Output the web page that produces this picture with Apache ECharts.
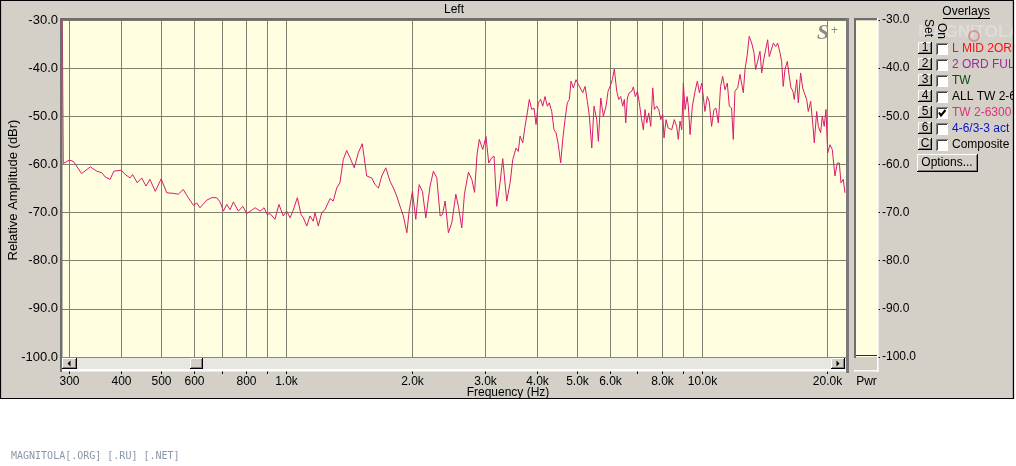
<!DOCTYPE html>
<html><head><meta charset="utf-8">
<script src="https://cdn.jsdelivr.net/npm/echarts@6/dist/echarts.min.js"></script>
<style>html,body{margin:0;padding:0;background:#fff}#c{width:1016px;height:466px}</style>
</head><body><div id="c"></div>
<script>
// ---------------- data ----------------
const freqHz = [
 288,290,300,307,321,337,349,359,366,376,384,400,409,420,426,437,448,459,469,483,
 499,515,534,549,564,580,597,608,619,643,661,679,692,705,718,731,745,766,785,802,
 825,840,864,883,899,
 913,938,959,982,1001,1020,1038,1062,1084,1098,1119,1139,1160,1171,1193,1216,1238,1273,1296,1321,
 1345,1370,1396,1422,1456,1489,1522,1545,1560,1604,1634,1665,1696,1734,1776,1809,1843,1877,1912,1949,
 1974,2010,2048,2086,2125,2165,2217,2258,2301,2344,2374,2410,2454,2501,2557,2594,2643,2682,2742,2794,
 2837,
 2876,2913,2969,3023,3069,3121,3161,3208,3267,3317,3391,3454,3506,3571,3616,3651,3706,3753,3801,3844,
 3895,3945,3989,
 4040,4094,4140,4193,4247,4294,4352,4408,4457,4514,4574,4626,4685,4745,4798,4843,4905,4980,
 5045,5092,5169,5236,5303,5362,5434,5503,5586,5636,5712,5795,5882,5948,
 6013,6090,6158,6241,6311,6381,6452,6510,6560,6619,6692,6782,6843,6919,
 7000,7074,7153,7233,7301,7370,7453,7536,7620,7688,7791,7878,7966,
 8053,8112,8202,8294,8386,8466,8588,8703,8781,8864,8948,
 9030,9115,9217,9284,9372,9492,9635,9759,9868,
 10000,10080,10180,10310,10420,10560,10700,10820,10960,11100,11230,11370,11520,11650,11800,11910,12020,12200,12360,12480,
 12590,12710,12870,13010,13190,13360,13480,13630,13810,13940,14100,14250,14410,14540,14680,14870,15070,15230,15430,15570,
 15710,15860,16070,16220,16400,16580,16700,16930,17080,17300,17500,17650,17890,18050,18290,18500,18660,18910,19080,19330,
 19510,19720,19910,20100,20360,20620,20930,21200,21440,21640,21920,22120
];
const levelDb = [
 -20,-59.8,-59.1,-59.4,-61.9,-60.5,-61.4,-61.7,-62.6,-63.1,-61.4,-61.2,-62.1,-62.8,-62.1,-63.8,-62.8,-64.5,-63.1,-65.6,
 -63.0,-65.9,-66.0,-66.2,-65.2,-66.9,-68.5,-68.0,-69.0,-67.4,-66.9,-66.9,-67.8,-69.7,-68.3,-69.4,-67.8,-69.7,-68.7,-70.2,
 -69.5,-69.0,-69.7,-69.0,-70.4,
 -70.2,-71.4,-68.3,-70.7,-69.7,-71.1,-69.5,-66.9,-70.4,-71.1,-72.8,-70.7,-71.8,-70.0,-72.8,-70.0,-69.4,-67.1,-67.6,-64.9,
 -63.8,-59.0,-57.1,-58.6,-60.7,-57.6,-55.7,-59.7,-62.4,-62.8,-64.2,-64.9,-62.4,-60.7,-63.5,-64.9,-66.6,-68.7,-70.7,-74.2,
 -69.7,-65.6,-71.4,-64.2,-65.6,-71.1,-64.5,-61.4,-62.8,-70.7,-70.4,-67.6,-74.2,-72.1,-66.2,-68.7,-73.2,-66.2,-61.6,-63.1,
 -65.8,
 -58.0,-54.8,-56.9,-54.2,-59.7,-58.6,-58.3,-68.7,-63.9,-58.8,-67.6,-63.9,-59.0,-56.6,-57.3,-54.1,-55.5,-52.1,-49.3,-46.5,
 -48.6,-48.3,-51.7,
 -47.2,-46.5,-47.9,-45.9,-47.9,-47.2,-49.0,-52.8,-53.4,-55.9,-59.7,-54.8,-50.7,-47.2,-46.5,-42.7,-44.1,-42.4,
 -43.4,-43.1,-45.1,-43.8,-46.9,-50.0,-56.6,-47.9,-50.7,-55.2,-46.2,-50.0,-47.9,-44.8,
 -43.8,-42.4,-40.2,-44.8,-46.5,-45.9,-47.9,-46.5,-51.4,-46.2,-45.1,-44.8,-43.9,-45.9,
 -44.8,-47.2,-50.3,-52.8,-48.6,-51.4,-49.3,-52.1,-44.1,-48.6,-47.9,-48.6,-50.7,
 -49.6,-54.5,-50.7,-52.4,-52.1,-52.8,-50.7,-52.1,-54.8,-51.0,-52.8,
 -43.1,-48.6,-45.9,-47.9,-53.8,-47.9,-44.8,-42.7,-45.1,
 -43.1,-43.4,-49.0,-45.9,-46.9,-52.1,-48.6,-48.3,-51.4,-43.8,-41.7,-44.5,-43.1,-47.9,-48.3,-54.8,-44.8,-44.1,-41.3,-41.0,
 -45.1,-40.3,-37.2,-33.4,-34.8,-36.8,-40.3,-38.6,-36.5,-41.0,-38.2,-36.2,-34.1,-37.6,-37.9,-34.8,-35.5,-34.8,-36.8,-38.6,
 -43.8,-40.3,-38.6,-41.3,-44.1,-44.8,-46.5,-42.4,-47.2,-41.0,-44.1,-45.1,-46.5,-49.0,-46.9,-51.4,-55.5,-49.0,-52.1,-53.4,
 -50.0,-52.1,-48.6,-57.6,-55.9,-56.9,-62.4,-59.7,-59.7,-63.8,-63.1,-65.9
];
const gridFreqs  = [300,400,500,600,700,800,900,1000,2000,3000,4000,5000,6000,7000,8000,9000,10000,20000];
const gridLabels = ['300','400','500','600','','800','','1.0k','2.0k','3.0k','4.0k','5.0k','6.0k','','8.0k','','10.0k','20.0k'];
const freqRange = [288, 22250];
const dbRange = [-100, -30];
const dbStep = 10;
const pwrLevel = [-99.6];
const overlaySets   = ['1','2','3','4','5','6','C'];
const overlayNames  = ['L MID 2ORD','2 ORD FUL','TW','ALL TW 2-6','TW 2-6300','4-6/3-3 act','Composite'];
const overlayColors = ['#ff1010','#9a2aa0','#0b4a12','#000000','#e0307a','#0a14c8','#000000'];
const overlayOn     = [false,false,false,false,true,false,false];

// ---------------- drawing ----------------
const FONT = '"Liberation Sans", Arial, sans-serif';
const PALE = '#fffee0', PANEL = '#d4d0c8', GRIDC = '#7f7f6e', CURVE = '#d81c6c';
const g = [];
function rect(x,y,w,h,fill,z){ g.push({type:'rect', silent:true, z:z==null?10:z, shape:{x,y,width:w,height:h}, style:{fill}}); }
function line(x1,y1,x2,y2,stroke,lw,z){ g.push({type:'line', silent:true, z:z==null?11:z, shape:{x1,y1,x2,y2}, style:{stroke, lineWidth:lw||1}}); }
function text(x,y,str,font,fill,align,va,extra){
  g.push(Object.assign({type:'text', silent:true, z:12, x, y,
    style:{text:str, font, fill, align:align||'left', textAlign:align||'left', verticalAlign:va||'middle', textVerticalAlign:va||'middle'}}, extra||{}));
}
function button3d(x,y,w,h){
  rect(x,y,w,h,PANEL,10);
  line(x+0.5,y+0.5,x+w-1,y+0.5,'#ffffff');
  line(x+0.5,y+0.5,x+0.5,y+h-1,'#ffffff');
  line(x,y+h-0.5,x+w,y+h-0.5,'#000000');
  line(x+w-0.5,y,x+w-0.5,y+h,'#000000');
  line(x+1,y+h-1.5,x+w-1,y+h-1.5,'#808080');
  line(x+w-1.5,y+1,x+w-1.5,y+h-1,'#808080');
}
function checkbox(x,y,s,on){
  rect(x,y,s,s,'#ffffff',10);
  line(x+0.5,y+0.5,x+s,y+0.5,'#808080'); line(x+0.5,y+0.5,x+0.5,y+s,'#808080');
  line(x+1.5,y+1.5,x+s-1,y+1.5,'#404040'); line(x+1.5,y+1.5,x+1.5,y+s-1,'#404040');
  if (on) g.push({type:'polyline', silent:true, z:13, shape:{points:[[x+3,y+5.5],[x+5,y+8.5],[x+9.5,y+3]]}, style:{stroke:'#000', lineWidth:2, fill:null}});
}

// panel background
g.push({type:'rect', silent:true, z:-100, shape:{x:0.5,y:0.5,width:1013,height:398}, style:{fill:PANEL, stroke:'#000', lineWidth:1.2}});
// plot borders
rect(60,18,2.5,354,'#6e6e6e');
rect(60,18,788,2.3,'#6e6e6e');
rect(846,18,3,355,'#7a7a7a');
// meter borders
rect(854,18,2,340,'#6e6e6e');
rect(854,18,23,2.3,'#6e6e6e');
rect(877,18,1.5,354,'#ffffff');
rect(856,358,21,12,PANEL);
rect(854,370,24.5,1.5,'#ffffff');
// scrollbar
rect(62,357.6,784,11.4,'#e8e6e1');
rect(62,369,784,2.5,'#ffffff');
button3d(62,358,15,11);
g.push({type:'polygon', silent:true, z:13, shape:{points:[[67.5,363.5],[70.5,360.5],[70.5,366.5]]}, style:{fill:'#000'}});
button3d(190,358,13,11);
button3d(831,358,14,11);
g.push({type:'polygon', silent:true, z:13, shape:{points:[[839.5,363.5],[836.5,360.5],[836.5,366.5]]}, style:{fill:'#000'}});
// texts
text(508,392.5,'Frequency (Hz)','12px '+FONT,'#000','center','middle');
text(13,190,'Relative Amplitude (dBr)','13px '+FONT,'#000','center','middle',{rotation:Math.PI/2});
text(817,33,'S','italic bold 22px "Liberation Serif", serif','#8c8c8c','left','middle');
text(831,31,'+','12px '+FONT,'#8c8c8c','left','middle');
text(11,456,'MAGNITOLA[.ORG] [.RU] [.NET]','10px "DejaVu Sans Mono", monospace','#8a98a8','left','middle');
// overlays panel
text(966,12,'Overlays','12px '+FONT,'#000','center','middle');
line(943,18.5,990,18.5,'#000');
text(918,32,'MAGNITOLA','bold 17px '+FONT,'rgba(236,236,242,0.45)','left','middle');
g.push({type:'circle', silent:true, z:12, shape:{cx:974,cy:36,r:5}, style:{fill:null, stroke:'rgba(215,90,90,0.5)', lineWidth:2}});
text(928,28,'Set','12px '+FONT,'#000','center','middle',{rotation:-Math.PI/2});
text(941,31,'On','12px '+FONT,'#000','center','middle',{rotation:-Math.PI/2});
overlaySets.forEach((s,i)=>{
  const y0 = 42 + 16*i;
  button3d(918,y0,14,12);
  text(925,y0+6,s,'12px '+FONT,'#000','center','middle');
  checkbox(936,y0+1,12,overlayOn[i]);
  text(952,y0+6.5,overlayNames[i],'12px '+FONT,overlayColors[i],'left','middle');
});
button3d(917,154,61,18);
text(947,162.5,'Options...','12px '+FONT,'#000','center','middle');
// page area right of the panel border (hides overflow of the overlay names)
g.push({type:'rect', silent:true, z:30, shape:{x:1013.7,y:0,width:3,height:466}, style:{fill:'#ffffff'}});
line(1013.5,0,1013.5,399,'#000',1.2,31);

const chart = echarts.init(document.getElementById('c'), null, {renderer:'canvas'});
chart.setOption({
  animation:false,
  backgroundColor:'#ffffff',
  title:{text:'Left', left:444, top:4, padding:0, textStyle:{fontSize:12, fontWeight:'normal', fontFamily:FONT, color:'#000'}},
  grid:[
    {left:62, top:20, width:784, height:337, show:true, backgroundColor:PALE, borderWidth:0, containLabel:false, outerBoundsMode:'none'},
    {left:856, top:20, width:21, height:337, show:true, backgroundColor:PALE, borderWidth:0, containLabel:false, outerBoundsMode:'none'}
  ],
  xAxis:[
    {type:'log', logBase:10, gridIndex:0, min:freqRange[0], max:freqRange[1], z:4,
     axisLine:{show:true, lineStyle:{color:'#1c1c8c', width:1}},
     axisTick:{show:false}, axisLabel:{show:false}, splitLine:{show:false}},
    {type:'category', gridIndex:1, data:['Pwr'], axisLine:{show:false}, axisTick:{show:false},
     axisLabel:{margin:19, fontSize:12, fontFamily:FONT, color:'#000'}}
  ],
  yAxis:[
    {type:'value', gridIndex:0, min:dbRange[0], max:dbRange[1], interval:dbStep,
     axisLine:{show:false}, axisTick:{show:false},
     axisLabel:{margin:4, fontSize:13, fontFamily:FONT, color:'#000', formatter:v=>v.toFixed(1)},
     splitLine:{show:true, lineStyle:{color:GRIDC, width:1}}},
    {type:'value', gridIndex:1, position:'right', min:dbRange[0], max:dbRange[1], interval:dbStep,
     axisLine:{show:false}, axisTick:{show:true, length:3, lineStyle:{color:'#000'}},
     axisLabel:{margin:5, fontSize:12, fontFamily:FONT, color:'#000', formatter:v=>v.toFixed(1)},
     splitLine:{show:false}}
  ],
  series:[
    {type:'custom', xAxisIndex:0, yAxisIndex:0, z:1, silent:true, clip:false,
     data: gridFreqs.map(f=>[f, dbRange[0]]),
     renderItem:(params, api)=>{
       const f = api.value(0);
       const top = api.coord([f, dbRange[1]]);
       const bot = api.coord([f, dbRange[0]]);
       const x = Math.round(bot[0]) + 0.5;
       const lab = gridLabels[params.dataIndex];
       return {type:'group', children:[
         {type:'line', shape:{x1:x, y1:top[1], x2:x, y2:bot[1]}, style:{stroke:GRIDC, lineWidth:1}},
         {type:'line', shape:{x1:x, y1:bot[1]+13, x2:x, y2:bot[1]+17}, style:{stroke:'#000', lineWidth:1}},
         {type:'text', x:x, y:bot[1]+25, style:{text:lab, font:'12px '+FONT, fill:'#000', align:'center', textAlign:'center', verticalAlign:'middle', textVerticalAlign:'middle'}}
       ]};
     }},
    {type:'line', name:'TW 2-6300', xAxisIndex:0, yAxisIndex:0, z:3, clip:true, showSymbol:false, symbol:'none',
     lineStyle:{color:CURVE, width:1}, data: freqHz.map((f,i)=>[f, levelDb[i]])},
    {type:'line', name:'Pwr', xAxisIndex:1, yAxisIndex:1, data:[], showSymbol:false,
     markLine:{silent:true, symbol:'none', label:{show:false}, lineStyle:{color:'#1c1c8c', type:'solid', width:1},
       data: pwrLevel.map(v=>({yAxis:v}))}}
  ],
  graphic:{elements:g}
});
</script></body></html>
